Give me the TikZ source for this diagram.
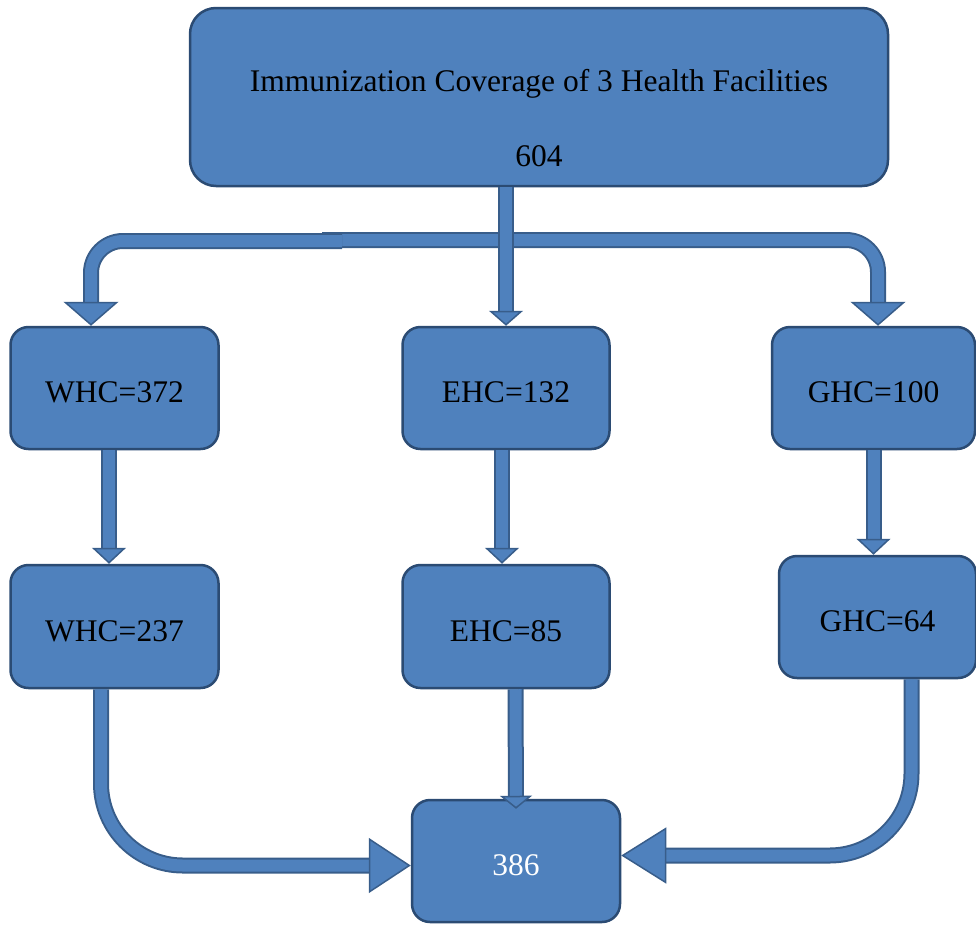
\documentclass[tikz,border=0pt]{standalone}
\usepackage{fontspec}
\setmainfont{Liberation Serif}
\usetikzlibrary{arrows.meta}
\definecolor{cellblue}{HTML}{4F81BD}
\definecolor{celledge}{HTML}{2B4B73}
\definecolor{flowedge}{HTML}{385D8A}
\tikzset{
  caption/.style={font=\fontsize{31.5}{38}\selectfont},
  cell/.style={draw=celledge, fill=cellblue, line width=2.5pt, rounded corners=18pt,
    minimum width=208pt, minimum height=122pt, inner sep=0pt,
    text height=29pt, text depth=0pt, caption},
  flow/.style 2 args={draw=cellblue, line width=1pt,
    preaction={draw=flowedge, line width=16pt, shorten >=#1-2pt, arrows=-},
    preaction={draw=cellblue, line width=12pt, shorten >=#1-3pt, arrows=-},
    -{Triangle[length=#1, width=#2, fill=cellblue, color=flowedge, line width=1.5pt]}},
}
\begin{document}
\begin{tikzpicture}[x=1pt,y=-1pt]
  \useasboundingbox (0,0) rectangle (976,924);
  % top box
  \node[cell, minimum width=698pt, minimum height=178pt, rounded corners=26pt] (cover) at (539,97) {};
  \node[caption, anchor=base] (covername) at (539,91) {Immunization Coverage of 3 Health Facilities};
  \node[caption, anchor=base] (covertotal) at (539,166) {604};
  % first row
  \node[cell] (whc1) at (114.5,388) {WHC=372};
  \node[cell, minimum width=207pt] (ehc1) at (506,388) {EHC=132};
  \node[cell, minimum width=203pt] (ghc1) at (873.5,388) {GHC=100};
  % second row
  \node[cell, minimum height=123pt] (whc2) at (114.5,626.5) {WHC=237};
  \node[cell, minimum width=207pt, minimum height=123pt] (ehc2) at (506,626.5) {EHC=85};
  \node[cell, minimum width=197pt] (ghc2) at (877.5,617) {GHC=64};
  % sum
  \node[cell, text=white] (total) at (516,861) {386};
  % branches
  \coordinate (forkR) at (322,240);
  \coordinate (forkL) at (342,241);
  \draw[flow={24pt}{55pt}, rounded corners=32pt] (forkR) -| ([xshift=4.5pt]ghc1.north);
  \draw[flow={24pt}{55pt}, rounded corners=32pt] (forkL) -| ([xshift=-23.5pt]whc1.north);
  \draw[flow={15pt}{34pt}] (ehc1.north |- cover.south) -- (ehc1.north);
  % down the columns
  \draw[flow={16pt}{34pt}] ([xshift=-5.5pt]whc1.south) -- ([xshift=-5.5pt]whc2.north);
  \draw[flow={16pt}{34pt}] ([xshift=-4pt]ehc1.south) -- ([xshift=-4pt]ehc2.north);
  \draw[flow={16pt}{34pt}] (ghc1.south) -- (ghc1.south |- ghc2.north);
  % into the sum
  \draw[flow={42pt}{55pt}, rounded corners=82pt] ([xshift=-13.5pt]whc2.south) |- ([yshift=-4.5pt]total.west);
  \draw[flow={13pt}{32pt}] ([xshift=9.5pt]ehc2.south) -- ([yshift=-10pt]total.north);
  \draw[flow={45pt}{56pt}, rounded corners=82pt] ([xshift=34pt]ghc2.south) |- ([yshift=5.5pt]total.east);
\end{tikzpicture}
\end{document}
